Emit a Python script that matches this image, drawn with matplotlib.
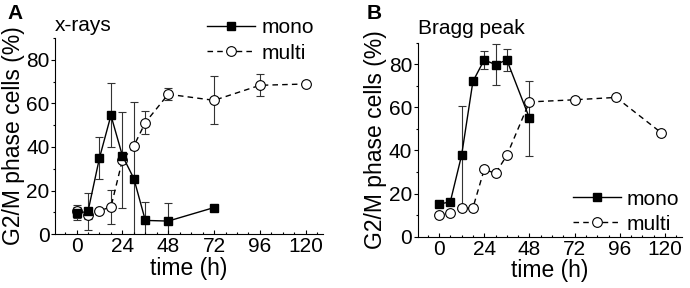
import matplotlib
matplotlib.use("Agg")
import matplotlib.pyplot as plt
from matplotlib.ticker import MultipleLocator

plt.rcParams['font.family'] = ['Liberation Sans', 'DejaVu Sans']

# Panel A: x-rays
a_mono_t = [0, 6, 12, 18, 24, 30, 36, 48, 72]
a_mono_y = [9.5, 10.5, 35, 54.5, 36, 25.5, 6.3, 6.0, 12.2]
a_mono_e = [3, 8.5, 9.5, 14.7, 0, 35, 8.3, 8.3, 0]
a_multi_t = [0, 6, 12, 18, 24, 30, 36, 48, 72, 96, 120]
a_multi_y = [10.5, 8.8, 10.7, 12.5, 34, 40.5, 51.2, 64.2, 61.4, 68.3, 68.9]
a_multi_e = [3, 2, 1, 7.8, 22, 1.5, 5.3, 2.7, 11, 5, 0]

# Panel B: Bragg peak
b_mono_t = [0, 6, 12, 18, 24, 30, 36, 48]
b_mono_y = [15.1, 16.2, 37.8, 72, 82, 79.8, 82, 55]
b_mono_e = [1, 1, 23, 0, 4, 9.4, 5.2, 17.4]
b_multi_t = [0, 6, 12, 18, 24, 30, 36, 48, 72, 94, 118]
b_multi_y = [10, 11.2, 13.1, 13.4, 31.2, 29.4, 37.7, 62.5, 63.5, 64.6, 48.2]

xticks = [0, 24, 48, 72, 96, 120]
yticks = [0, 20, 40, 60, 80]

fig = plt.figure(figsize=(6.9, 2.88), dpi=100)
axA = fig.add_axes([0.0797, 0.187, 0.3883, 0.681])
axB = fig.add_axes([0.6054, 0.178, 0.3830, 0.674])

TFS = 15   # tick labels
LFS = 16.5 # axis labels
GFS = 15   # legend / titles

def style(ax):
    ax.set_xlim(-11.3, 129)
    ax.set_ylim(0, 90)
    ax.spines['top'].set_visible(False)
    ax.spines['right'].set_visible(False)
    ax.set_xticks(xticks)
    ax.set_yticks(yticks)
    ax.xaxis.set_minor_locator(MultipleLocator(6))
    ax.yaxis.set_minor_locator(MultipleLocator(10))
    ax.tick_params(axis='x', direction='in', length=3, width=0.8, labelsize=TFS, pad=2)
    ax.tick_params(axis='x', which='minor', direction='in', length=1.5, width=0.8)
    ax.tick_params(axis='y', direction='out', length=3, width=0.8, labelsize=TFS, pad=1)
    ax.tick_params(axis='y', which='minor', direction='out', length=1.5, width=0.8)
    ax.set_xlabel('time (h)', fontsize=LFS, labelpad=0.5)
    ax.set_ylabel('G2/M phase cells (%)', fontsize=LFS, labelpad=1)

mono_kw = dict(color='black', lw=1.0, marker='s', ms=6, mfc='black', mec='black', label='mono')
multi_kw = dict(color='black', lw=1.0, ls=(0, (4, 3)), marker='o', ms=7, mfc='white',
                mec='black', mew=0.8, label='multi')
eb_kw = dict(ecolor='#333333', elinewidth=0.8, capsize=3, capthick=0.8, fmt='none', zorder=1)
leg_kw = dict(frameon=False, fontsize=GFS, handlelength=2.3, handletextpad=0.3,
              labelspacing=0.3, borderaxespad=0, borderpad=0)

# Panel A
axA.errorbar(a_mono_t, a_mono_y, yerr=a_mono_e, **eb_kw)
axA.errorbar(a_multi_t, a_multi_y, yerr=a_multi_e, **eb_kw)
hA2, = axA.plot(a_multi_t, a_multi_y, zorder=3, **multi_kw)
hA1, = axA.plot(a_mono_t, a_mono_y, zorder=4, **mono_kw)
style(axA)
axA.legend(handles=[hA1, hA2], loc='upper left', bbox_to_anchor=(0.300, 0.936),
           bbox_transform=fig.transFigure, **leg_kw)
axA.text(0.0, 1.066, 'x-rays', transform=axA.transAxes, fontsize=GFS, ha='left', va='center')
fig.text(0.011, 0.953, 'A', fontsize=15, fontweight='bold', ha='left', va='center')

# Panel B
axB.errorbar(b_mono_t, b_mono_y, yerr=b_mono_e, **eb_kw)
hB2, = axB.plot(b_multi_t, b_multi_y, zorder=3, **multi_kw)
hB1, = axB.plot(b_mono_t, b_mono_y, zorder=4, **mono_kw)
style(axB)
axB.legend(handles=[hB1, hB2], loc='upper left', bbox_to_anchor=(0.830, 0.342),
           bbox_transform=fig.transFigure, **leg_kw)
axB.text(0.0, 1.075, 'Bragg peak', transform=axB.transAxes, fontsize=GFS, ha='left', va='center')
fig.text(0.532, 0.953, 'B', fontsize=15, fontweight='bold', ha='left', va='center')

fig.savefig('out.png', dpi=100)
